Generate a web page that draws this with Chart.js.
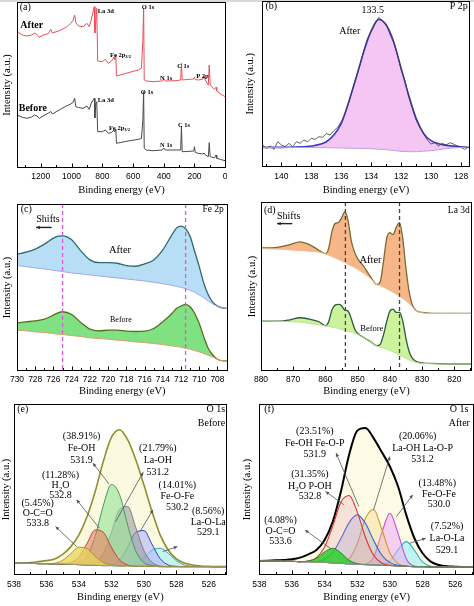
<!DOCTYPE html>
<html>
<head>
<meta charset="utf-8">
<script src="https://cdn.jsdelivr.net/npm/chart.js@4.4.0/dist/chart.umd.min.js"></script>
<style>
body{margin:0;background:#fff;width:474px;height:606px;position:relative;overflow:hidden}
canvas{position:absolute}
.strip{position:absolute;left:0;top:0;width:474px;height:2px;background:#d9d9d9}
</style>
</head>
<body>
<div class="strip"></div>
<canvas id="pa" width="237" height="200" style="left:0;top:0"></canvas>
<canvas id="pb" width="237" height="200" style="left:237px;top:0"></canvas>
<canvas id="pc" width="237" height="200" style="left:0;top:200px"></canvas>
<canvas id="pd" width="237" height="200" style="left:237px;top:200px"></canvas>
<canvas id="pe" width="237" height="206" style="left:0;top:400px"></canvas>
<canvas id="pf" width="237" height="206" style="left:237px;top:400px"></canvas>
<script>
// (a) survey
const surveyEnergy = [1355,1320,1290,1260,1240,1225,1210,1185,1150,1135,1125,1080,1035,1005,992,980,972,955,925,900,885,872,860,852,848,842,836,830,800,780,760,740,724,718,712,708,650,566,545,536,531,527,515,470,410,400,390,320,290,285,280,250,205,200,195,175,145,138,130,110,104,98,70,60,55,30,0,-5];
const surveyAfter = [136.3,133,132,133,135,133.5,130.7,133,134.5,138.7,135,137.3,140.7,144.7,147.3,153,145.3,142,141.3,144.7,141.3,148,156,161.3,135,146,159.7,107,106.3,108.7,104.7,107,111,108,113,92,94.5,98,100,128,159.7,88,87,86.3,87,89,87,87.3,88,104.7,88,88.5,89,90.7,88.5,88,89,92,88,83,103,83,78.7,80.7,77,74,71.3,71];
const surveyBefore = [53,50.7,49.7,51,53,52,49.7,52,55,56.5,54,58,62,64,65.3,69.7,61.3,60.5,59.7,62,58.7,64.7,68,69.7,50,64,66.3,36.3,36.3,38,34.7,35.5,38,36,39,24.7,26.5,28.7,29.5,48,76.3,19.7,18,17.3,18,20,18,18,18,42,16.3,16.5,17,21.3,15.5,14.7,14,15,13,11.3,25.3,11.3,10,13,9.7,8.5,7.3,7];
const surveyTicks = [1200,1000,800,600,400,200,0];
const surveyMinor = [1300,1100,900,700,500,300,100];

// (b) P 2p
const p2pEnergy = [141.3,140,139,138,137,136.5,136,135.5,135,134.5,134,133.5,133,132.5,132,131.5,131,130.5,130,129,128,127.4];
const p2pFit = [58,58,59,62,75,95,130,195,268,345,408,442,425,375,295,215,145,100,78,64,60,58];
const p2pBackground = [58,58,58,57.5,57,56.5,56,55.5,55,54.5,54,52.5,51,48.5,46,45,45,46.5,48,54,58,60];
const p2pRawEnergy = [141.25,141,140.75,140.5,140.25,140,139.75,139.5,139.25,139,138.75,138.5,138.25,138,137.75,137.5,137.25,137,136.75,136.5,136.25,136,135.75,135.5,135.25,135,134.75,134.5,134.25,134,133.75,133.5,133.25,133,132.75,132.5,132.25,132,131.75,131.5,131.25,131,130.75,130.5,130.25,130,129.75,129.5,129.25,129,128.75,128.5,128.25,128,127.75,127.5];
const p2pRaw = [65,55,62,52,75,65,60,70,60,75,70,80,75,85,82,90,88,100,95,108,118,135,160,192,232,270,305,348,385,405,428,448,438,428,398,372,335,290,258,210,175,140,118,98,80,68,72,62,70,65,72,68,62,58,52,60];
const p2pTicks = [140,138,136,134,132,130,128];
const p2pMinor = [141,139,137,135,133,131,129];

// (c) Fe 2p
const feEnergy = [730,729,728,727,726,725.5,725,724,723,722,721,720,719,718,717,716,715,714,713,712.5,712,711.5,711,710.5,710,709.5,709,708.5,708,707.5,707,706.5];
const feAfter = [349,355,364,379,397,403,404,392,359,332,324,324,322,315,313,320,332,362,407,427,433,425,402,357,312,262,227,205,194,189,187,187];
const feAfterBg = [315,312,308,305,301,299,297,293,290,287,284,281,278,275,272,269,265,261,256,253,250,246,241,235,227,219,209,200,193,189,187,187];
const feBefore = [144,147,150,155,167,174,177,169,145,125,120,122,122,119,118,119,127,147,172,187,194,199,192,172,142,102,67,47,35,31,30,30];
const feBeforeBg = [122,120,117,115,112,110,109,106,103,99,97,95,92,90,87,85,82,79,75,73,71,68,65,61,57,52,47,42,35,31,30,30];
const feLines = [725,711.5];
const feTicks = [730,728,726,724,722,720,718,716,714,712,710,708];
const feMinor = [729,727,725,723,721,719,717,715,713,711,709,707];

// (d) La 3d
const laEnergy = [880,877,874,871,868,865,862,860,859,858,857,856,855,854,853,852,851,850,848,846,844,843,842,841,840,839,838,837,836,835,834,833,832,831,830,828,825,820,815,812];
const laAfter = [370,370,373,380,388,380,363,353,368,418,443,446,460,478,453,393,358,338,313,283,260,268,328,398,416,410,433,446,398,308,238,198,183,178,176,174,173,173,173,173];
const laAfterBg = [368,367,366,364,362,360,357,352,348,344,340,336,331,326,321,316,311,306,293,278,259,257,252,247,242,237,231,225,218,211,202,193,182,177,175,173,173,173,173,173];
const laBefore = [150,150,150,154,160,156,148,136,148,183,198,200,196,183,180,158,128,113,100,88,76,80,108,148,180,186,176,176,150,98,58,38,30,26,24,23,22,21,21,21];
const laBeforeBg = [150,150,149,148,147,143,139,136,134,132,130,128,125,123,120,117,114,110,99,87,75,72,69,66,62,58,53,48,43,38,33,29,26,24,23,22,21,21,21,21];
const laLines = [853.8,837];
const laTicks = [880,870,860,850,840,830,820];
const laMinor = [875,865,855,845,835,825,815];

// (e)/(f) O 1s
const o1sEnergy = [538,537.5,537,536.5,536,535.5,535,534.5,534,533.5,533,532.5,532,531.5,531,530.5,530,529.5,529,528.5,528,527.5,527,526.5,526,525.5,525,524.5];
const eBg = [35,35,35,34,34,33,33,32,31,30,29,28,28,27,27,26,26,26,25,25,25,25,25,25,25,25,25,25];
const eEnvelope = [35,35,37,40,43,48,62,85,120,175,250,340,412,435,405,345,270,190,120,75,48,36,30,27,26,25,25,25];
const eOCO = [35,35,35,34,34,35,44,64,83,79,56,37,30,27,27,26,26,26,25,25,25,25,25,25,25,25,25,25];
const eH2O = [35,35,35,34,34,33,33,37,54,95,135,128,83,45,30,26,26,26,25,25,25,25,25,25,25,25,25,25];
const eFeOH = [35,35,35,34,34,33,33,33,37,57,116,208,271,241,149,72,37,28,25,25,25,25,25,25,25,25,25,25];
const eLaOH = [35,35,35,34,34,33,33,32,31,31,37,65,128,197,205,142,73,38,27,25,25,25,25,25,25,25,25,25];
const eFeOFe = [35,35,35,34,34,33,33,32,31,30,29,28,31,45,83,128,133,92,49,30,26,25,25,25,25,25,25,25];
const eLaOLa = [35,35,35,34,34,33,33,32,31,30,29,28,28,27,29,35,52,74,80,65,43,30,26,25,25,25,25,25];
const fBg = [42,42,42,41,41,40,40,39,38,36,35,33,32,31,30,29,28,27,26,25,25,24,24,24,24,24,24,24];
const fEnvelope = [42,43,44,45,47,52,62,75,105,160,250,360,432,440,410,368,325,265,180,110,65,40,30,26,25,24,24,24];
const fOCO = [42,42,42,41,41,40,42,50,69,80,66,44,34,31,30,29,28,27,26,25,25,24,24,24,24,24,24,24];
const fH2O = [42,42,42,41,41,40,42,52,84,147,218,238,189,113,59,36,29,27,26,25,25,24,24,24,24,24,24,24];
const fFeOH = [42,42,42,41,41,40,40,41,47,67,109,157,180,155,104,60,37,29,26,25,25,24,24,24,24,24,24,24];
const fLaOH = [42,42,42,41,41,40,40,39,38,36,37,48,94,169,196,137,66,34,27,25,25,24,24,24,24,24,24,24];
const fFeOFe = [42,42,42,41,41,40,40,39,38,36,35,33,32,33,53,126,185,124,49,27,25,24,24,24,24,24,24,24];
const fLaOLa = [42,42,42,41,41,40,40,39,38,36,35,33,32,31,30,31,42,76,100,74,39,26,24,24,24,24,24,24];
const o1sTicks = [538,536,534,532,530,528,526];
const o1sMinor = [537,535,533,531,529,527,525];

const SERIF = "'Liberation Serif', 'Times New Roman', serif";
const SANS = "'Liberation Sans', Arial, sans-serif";

const pts = (xs, ys) => xs.map((v, i) => ({x: v, y: ys[i]}));
function ln(xs, ys, color, width, extra) {
  return Object.assign({data: pts(xs, ys), borderColor: color, borderWidth: width, pointRadius: 0, fill: false}, extra || {});
}

function richText(ctx, text, x, y, align, size, weight) {
  const parts = [];
  text.split(/(_\{[^}]*\})/).forEach(p => {
    if (!p) return;
    if (p.startsWith('_{')) parts.push({t: p.slice(2, -1), sub: true});
    else parts.push({t: p, sub: false});
  });
  const fnt = s => (weight || 'normal') + ' ' + s + 'px ' + SERIF;
  let w = 0;
  parts.forEach(p => { ctx.font = fnt(p.sub ? size * 0.7 : size); p.w = ctx.measureText(p.t).width; w += p.w; });
  let cx = align === 'left' ? x : align === 'right' ? x - w : x - w / 2;
  ctx.textAlign = 'left';
  ctx.textBaseline = 'middle';
  ctx.fillStyle = '#000';
  parts.forEach(p => {
    ctx.font = fnt(p.sub ? size * 0.7 : size);
    ctx.fillText(p.t, cx, p.sub ? y + size * 0.3 : y);
    cx += p.w;
  });
}

function arrow(ctx, x1, y1, x2, y2, color, lw, head) {
  ctx.strokeStyle = color; ctx.fillStyle = color; ctx.lineWidth = lw;
  ctx.beginPath(); ctx.moveTo(x1, y1); ctx.lineTo(x2, y2); ctx.stroke();
  const ang = Math.atan2(y1 - y2, x1 - x2);
  ctx.beginPath(); ctx.moveTo(x1, y1);
  ctx.lineTo(x1 - head * Math.cos(ang - 0.45), y1 - head * Math.sin(ang - 0.45));
  ctx.lineTo(x1 - head * Math.cos(ang + 0.45), y1 - head * Math.sin(ang + 0.45));
  ctx.closePath(); ctx.fill();
}

const deco = {
  id: 'deco',
  afterDatasetsDraw(chart, args, o) {
    const {ctx, chartArea: a} = chart;
    const x = chart.scales.x, y = chart.scales.y;
    ctx.save();
    (o.vlines || []).forEach(v => {
      const px = x.getPixelForValue(v);
      ctx.strokeStyle = o.vlineColor; ctx.lineWidth = 1.3; ctx.setLineDash([4, 3]);
      ctx.beginPath(); ctx.moveTo(px, a.top); ctx.lineTo(px, a.bottom); ctx.stroke();
    });
    ctx.setLineDash([]);
    ctx.strokeStyle = '#000'; ctx.lineWidth = 1;
    const L = Math.round(a.left) + 0.5, T = Math.round(a.top) + 0.5;
    const R = Math.round(a.right) - 0.5, B = Math.round(a.bottom) - 0.5;
    ctx.strokeRect(L, T, R - L, B - T);
    const tick = (v, len) => {
      const px = Math.round(x.getPixelForValue(v)) + 0.5;
      ctx.beginPath(); ctx.moveTo(px, B); ctx.lineTo(px, B - len); ctx.stroke();
    };
    (o.majors || []).forEach(v => tick(v, 4));
    (o.minors || []).forEach(v => tick(v, 2.5));
    (o.arrows || []).forEach(r => {
      arrow(ctx, x.getPixelForValue(r[0]), y.getPixelForValue(r[1]), x.getPixelForValue(r[2]), y.getPixelForValue(r[3]),
        r[4] || '#555', r[5] || 0.8, r[6] || 4);
    });
    (o.labels || []).forEach(l => {
      richText(ctx, l.t, x.getPixelForValue(l.x), y.getPixelForValue(l.y), l.align || 'center', l.size || 10, l.weight);
    });
    ctx.restore();
  }
};

function panel(id, c) {
  return new Chart(document.getElementById(id), {
    type: 'line',
    data: {datasets: c.datasets},
    options: {
      responsive: false,
      animation: false,
      layout: {padding: c.pad},
      elements: {point: {radius: 0}, line: {cubicInterpolationMode: 'monotone'}},
      plugins: {
        legend: {display: false},
        tooltip: {enabled: false},
        deco: Object.assign({majors: c.ticks, minors: c.minor}, c.deco)
      },
      scales: {
        x: {
          type: 'linear', reverse: true, min: c.xmin, max: c.xmax,
          grid: {display: false, drawTicks: false}, border: {display: false},
          afterBuildTicks: s => { s.ticks = c.ticks.map(v => ({value: v})); },
          afterFit: s => { s.height = c.xh; },
          ticks: {font: {family: SANS, size: 8.5}, color: '#000', padding: c.tkp, maxRotation: 0, autoSkip: false,
            callback: v => String(v)},
          title: {display: true, text: 'Binding energy (eV)', color: '#000',
            font: {family: SERIF, size: 10.5}, padding: {top: 0, bottom: c.tpb}}
        },
        y: {
          min: 0, max: c.ymax,
          grid: {display: false, drawTicks: false}, border: {display: false}, ticks: {display: false},
          afterFit: s => { s.width = c.yw; },
          title: {display: true, text: 'Intensity (a.u.)', color: '#000',
            font: {family: SERIF, size: 10.5}, padding: {top: c.ytp, bottom: 0}}
        }
      }
    },
    plugins: [deco]
  });
}

// (a)
panel('pa', {
  pad: {left: 0, top: 2, right: 11, bottom: 0}, yw: 17, xh: 32, tpb: 3.4, ytp: 1, tkp: 4,
  xmin: -5, xmax: 1355, ymax: 166, ticks: surveyTicks, minor: surveyMinor,
  datasets: [
    ln(surveyEnergy, surveyAfter, '#e8505a', 1, {tension: 0, cubicInterpolationMode: 'default'}),
    ln(surveyEnergy, surveyBefore, '#4a4a4a', 1, {tension: 0, cubicInterpolationMode: 'default'})
  ],
  deco: {labels: [
    {t: '(a)', x: 1337, y: 161, align: 'left', size: 10},
    {t: 'After', x: 1259, y: 143, size: 10, weight: 'bold'},
    {t: 'Before', x: 1252, y: 60, size: 10, weight: 'bold'},
    {t: 'La 3d', x: 830, y: 157, align: 'left', size: 6.5, weight: 'bold'},
    {t: 'La 3d', x: 830, y: 68, align: 'left', size: 6.5, weight: 'bold'},
    {t: 'Fe 2p_{3/2}', x: 750, y: 113, align: 'left', size: 6.5, weight: 'bold'},
    {t: 'Fe 2p_{3/2}', x: 757, y: 40, align: 'left', size: 6.5, weight: 'bold'},
    {t: 'O 1s', x: 543, y: 160.7, align: 'left', size: 6.5, weight: 'bold'},
    {t: 'O 1s', x: 550, y: 76, align: 'left', size: 6.5, weight: 'bold'},
    {t: 'C 1s', x: 313, y: 102, align: 'left', size: 6.5, weight: 'bold'},
    {t: 'C 1s', x: 307, y: 43, align: 'left', size: 6.5, weight: 'bold'},
    {t: 'N 1s', x: 424, y: 90, align: 'left', size: 6.5, weight: 'bold'},
    {t: 'N 1s', x: 424, y: 23, align: 'left', size: 6.5, weight: 'bold'},
    {t: 'P 2p', x: 189, y: 92, align: 'left', size: 6.5, weight: 'bold'}
  ]}
});

// (b)
panel('pb', {
  pad: {left: 0, top: 1, right: 4, bottom: 0}, yw: 25, xh: 33.3, tpb: 3.4, ytp: 6.7, tkp: 5,
  xmin: 127.4, xmax: 141.3, ymax: 497, ticks: p2pTicks, minor: p2pMinor,
  datasets: [
    ln(p2pEnergy, p2pBackground, '#b9a3e3', 1),
    ln(p2pRawEnergy, p2pRaw, '#3a3a3a', 0.8, {tension: 0, cubicInterpolationMode: 'default'}),
    ln(p2pEnergy, p2pFit, '#3b3bc4', 1.6, {fill: 0, backgroundColor: '#f5c6f3'})
  ],
  deco: {labels: [
    {t: '(b)', x: 141.07, y: 480, align: 'left', size: 10},
    {t: 'P 2p', x: 127.55, y: 480, align: 'right', size: 10},
    {t: '133.5', x: 133.9, y: 470, size: 10},
    {t: 'After', x: 135.43, y: 405, size: 10}
  ]}
});

// (c)
panel('pc', {
  pad: {left: 0, top: 4, right: 9.5, bottom: 0}, yw: 17, xh: 29, tpb: 2.4, ytp: 1, tkp: 4,
  xmin: 706.9, xmax: 730, ymax: 499, ticks: feTicks, minor: feMinor,
  datasets: [
    ln(feEnergy, feAfterBg, '#a7a7ea', 1),
    ln(feEnergy, feBeforeBg, '#d6a06c', 1),
    ln(feEnergy, feAfter, '#2c6b6e', 1.3, {fill: 0, backgroundColor: '#b8def6'}),
    ln(feEnergy, feBefore, '#566f1f', 1.3, {fill: 1, backgroundColor: '#80e183'})
  ],
  deco: {
    vlines: feLines, vlineColor: '#e055e0',
    labels: [
      {t: '(c)', x: 729.6, y: 482, align: 'left', size: 10},
      {t: 'Fe 2p', x: 707.3, y: 482, align: 'right', size: 9.5},
      {t: 'Shifts', x: 726.6, y: 452, size: 10},
      {t: 'After', x: 718.7, y: 362, size: 10.5},
      {t: 'Before', x: 718.6, y: 152, size: 8}
    ],
    arrows: [[727.9, 429, 726.2, 429, '#222', 1.4, 4]]
  }
});

// (d)
panel('pd', {
  pad: {left: 0, top: 2, right: 2, bottom: 0}, yw: 24, xh: 29, tpb: 2.4, ytp: 8.7, tkp: 4,
  xmin: 814.5, xmax: 880, ymax: 508, ticks: laTicks, minor: laMinor,
  datasets: [
    ln(laEnergy, laAfterBg, '#e9c08f', 1),
    ln(laEnergy, laBeforeBg, '#b9e28a', 1),
    ln(laEnergy, laAfter, '#7a6a32', 1.3, {fill: 0, backgroundColor: '#f6b688'}),
    ln(laEnergy, laBefore, '#2c5a3a', 1.3, {fill: 1, backgroundColor: '#cdf29c'})
  ],
  deco: {
    vlines: laLines, vlineColor: '#444',
    labels: [
      {t: '(d)', x: 879.1, y: 483, align: 'left', size: 10},
      {t: 'Shifts', x: 871.4, y: 466, size: 10},
      {t: 'La 3d', x: 815.2, y: 483, align: 'right', size: 9.5},
      {t: 'After', x: 846, y: 333, size: 10.5},
      {t: 'Before', x: 845.6, y: 128, size: 8.5}
    ],
    arrows: [[875, 443, 870.3, 443, '#222', 1.4, 4]]
  }
});

// (e)
panel('pe', {
  pad: {left: 0, top: 4, right: 10.3, bottom: 0}, yw: 14, xh: 31, tpb: 2.7, ytp: 0, tkp: 5,
  xmin: 524.9, xmax: 538, ymax: 512, ticks: o1sTicks, minor: o1sMinor,
  datasets: [
    ln(o1sEnergy, eBg, '#9a8f6a', 0.8),
    ln(o1sEnergy, eOCO, '#a8982a', 1, {fill: 0, backgroundColor: 'rgba(232,212,90,0.75)'}),
    ln(o1sEnergy, eH2O, '#b4483a', 1, {fill: 0, backgroundColor: 'rgba(230,125,95,0.6)'}),
    ln(o1sEnergy, eFeOH, '#3a9a6a', 1, {fill: 0, backgroundColor: 'rgba(150,225,150,0.6)'}),
    ln(o1sEnergy, eLaOH, '#7a7a9a', 1, {fill: 0, backgroundColor: 'rgba(150,150,150,0.55)'}),
    ln(o1sEnergy, eFeOFe, '#2a4ad0', 1, {fill: 0, backgroundColor: 'rgba(180,180,250,0.6)'}),
    ln(o1sEnergy, eLaOLa, '#2aa8c0', 1, {fill: 0, backgroundColor: 'rgba(160,240,250,0.6)'}),
    ln(o1sEnergy, eEnvelope, '#8f8f2c', 1.6, {fill: 0, backgroundColor: '#fbf9e0'})
  ],
  deco: {
    labels: [
      {t: '(e)', x: 537.8, y: 495, align: 'left', size: 10},
      {t: 'O 1s', x: 525, y: 495, align: 'right', size: 10},
      {t: 'Before', x: 525, y: 455, align: 'right', size: 10},
      {t: '(38.91%)', x: 533.84, y: 415}, {t: 'Fe-OH', x: 533.84, y: 378}, {t: '531.9', x: 533.84, y: 342},
      {t: '(21.79%)', x: 529.14, y: 378}, {t: 'La-OH', x: 529.14, y: 342}, {t: '531.2', x: 529.14, y: 307},
      {t: '(11.28%)', x: 535.14, y: 297}, {t: 'H_{2}O', x: 535.14, y: 267}, {t: '532.8', x: 535.14, y: 237},
      {t: '(14.01%)', x: 527.94, y: 267}, {t: 'Fe-O-Fe', x: 527.94, y: 235}, {t: '530.2', x: 527.94, y: 203},
      {t: '(5.45%)', x: 536.54, y: 215}, {t: 'O-C=O', x: 536.54, y: 185}, {t: '533.8', x: 536.54, y: 155},
      {t: '(8.56%)', x: 526.04, y: 190}, {t: 'La-O-La', x: 526.04, y: 158}, {t: '529.1', x: 526.04, y: 128}
    ],
    arrows: [
      [533.14, 335, 532.14, 272],
      [530.04, 308, 531.74, 160],
      [534.14, 225, 532.74, 140],
      [529.44, 195, 530.24, 130],
      [535.44, 145, 534.14, 85],
      [527.94, 85, 528.84, 70]
    ]
  }
});

// (f)
panel('pf', {
  pad: {left: 0, top: 4, right: 0, bottom: 0}, yw: 22.3, xh: 31, tpb: 2.7, ytp: 3.7, tkp: 5,
  xmin: 524.85, xmax: 538, ymax: 512, ticks: o1sTicks, minor: o1sMinor,
  datasets: [
    ln(o1sEnergy, fBg, '#8a8a8a', 0.8),
    ln(o1sEnergy, fOCO, '#1f8a1f', 1, {fill: 0, backgroundColor: 'rgba(45,205,45,0.85)'}),
    ln(o1sEnergy, fH2O, '#e03030', 1.1, {fill: 0, backgroundColor: 'rgba(230,150,170,0.25)'}),
    ln(o1sEnergy, fFeOH, '#3060d0', 1.1, {fill: 0, backgroundColor: 'rgba(140,160,230,0.3)'}),
    ln(o1sEnergy, fLaOH, '#c89a2a', 1.1, {fill: 0, backgroundColor: 'rgba(240,210,120,0.35)'}),
    ln(o1sEnergy, fFeOFe, '#c050d0', 1.1, {fill: 0, backgroundColor: 'rgba(240,170,245,0.55)'}),
    ln(o1sEnergy, fLaOLa, '#30b0c0', 1.1, {fill: 0, backgroundColor: 'rgba(150,240,245,0.6)'}),
    ln(o1sEnergy, fEnvelope, '#000', 2, {fill: 0, backgroundColor: '#fdfbe6'})
  ],
  deco: {
    labels: [
      {t: '(f)', x: 537.7, y: 495, align: 'left', size: 10},
      {t: 'O 1s', x: 525.2, y: 495, align: 'right', size: 10},
      {t: 'After', x: 525.1, y: 455, align: 'right', size: 10},
      {t: '(23.51%)', x: 534.6, y: 430}, {t: 'Fe-OH Fe-O-P', x: 534.6, y: 395}, {t: '531.9', x: 534.6, y: 360},
      {t: '(20.06%)', x: 528.3, y: 415}, {t: 'La-OH La-O-P', x: 528.0, y: 380}, {t: '531.2', x: 528.0, y: 345},
      {t: '(31.35%)', x: 534.9, y: 300}, {t: 'H_{2}O P-OH', x: 534.9, y: 265}, {t: '532.8', x: 534.9, y: 235},
      {t: '(13.48%)', x: 527.1, y: 275}, {t: 'Fe-O-Fe', x: 527.0, y: 240}, {t: '530.0', x: 527.0, y: 210},
      {t: '(4.08%)', x: 536.7, y: 165}, {t: 'O-C=O', x: 536.7, y: 130}, {t: '533.6', x: 536.7, y: 100},
      {t: '(7.52%)', x: 526.5, y: 145}, {t: 'La-O-La', x: 526.5, y: 110}, {t: '529.1', x: 526.5, y: 75}
    ],
    arrows: [
      [533.3, 365, 531.9, 205],
      [530.0, 355, 531.0, 195],
      [533.94, 250, 532.8, 210],
      [528.6, 240, 529.6, 175],
      [535.2, 135, 533.6, 78],
      [527.8, 110, 528.8, 95]
    ]
  }
});
</script>
</body>
</html>
